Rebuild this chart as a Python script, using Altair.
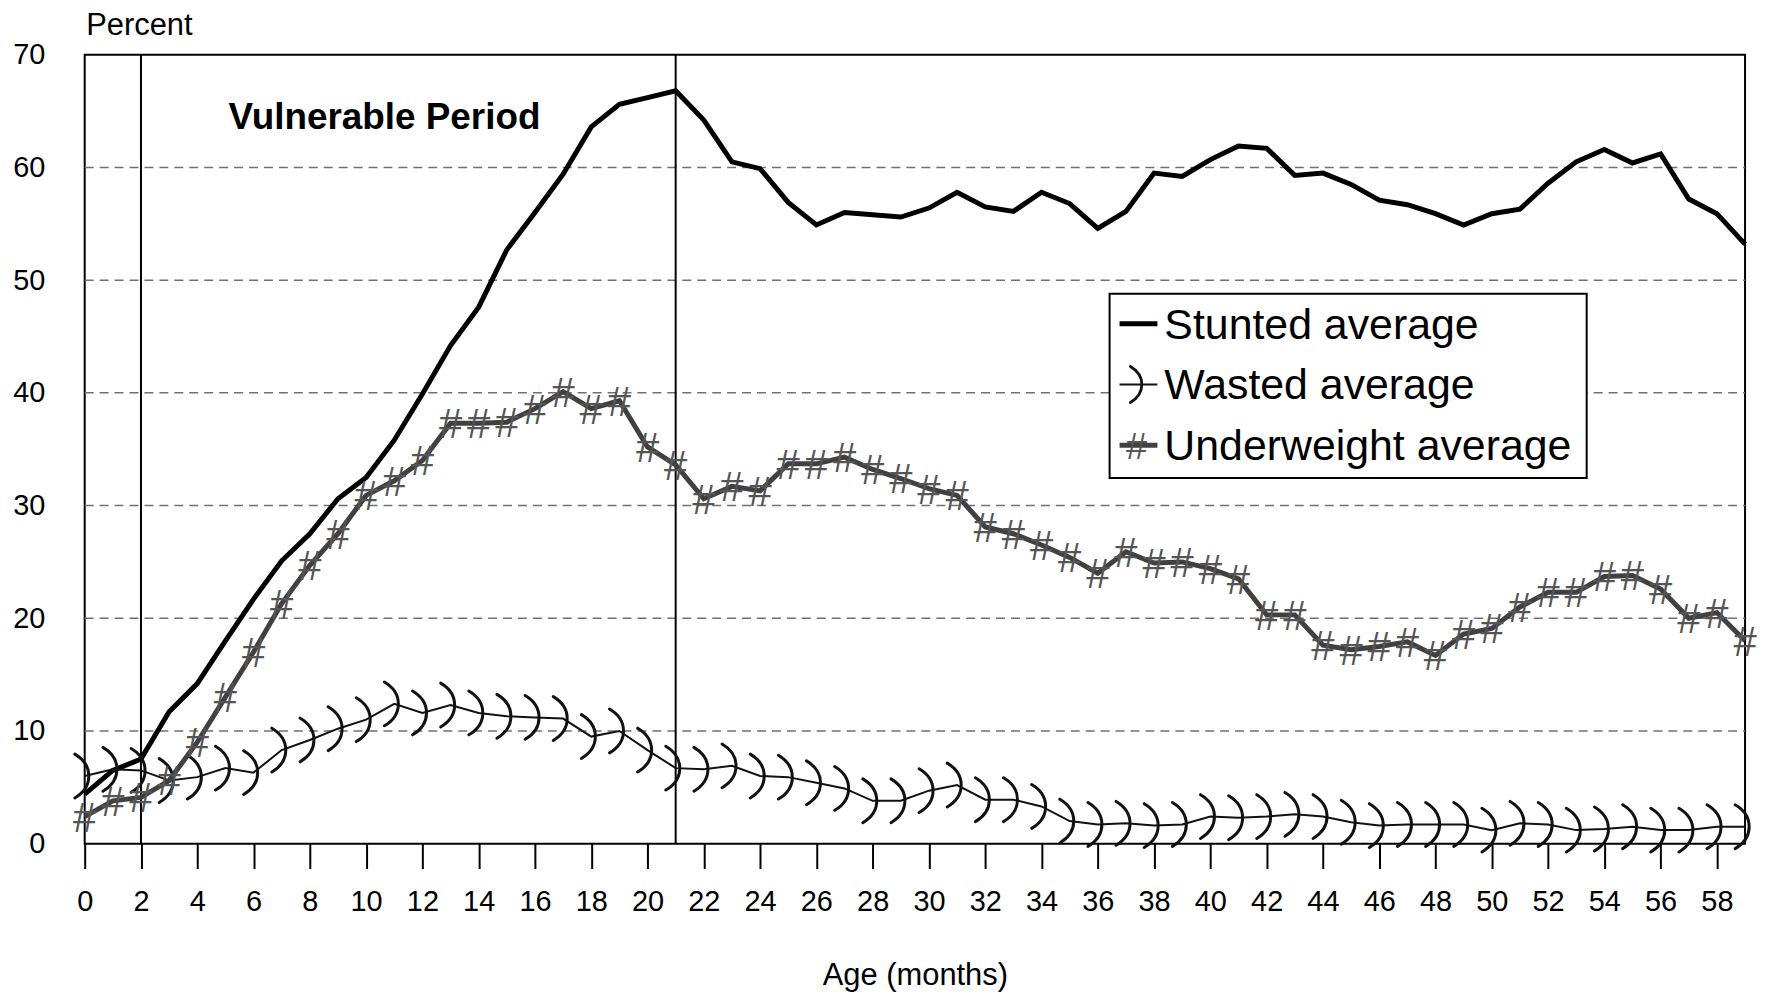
import altair as alt
import pandas as pd

# ---------------- data ----------------
months = list(range(0, 60))

stunted = [4.4, 6.5, 7.5, 11.7, 14.2, 18.0, 21.7, 25.1, 27.5, 30.6,
           32.5, 35.8, 39.9, 44.2, 47.6, 52.7, 56.0, 59.4, 63.6, 65.6,
           66.2, 66.8, 64.2, 60.5, 59.9, 56.9, 54.9, 56.0, 55.8, 55.6,
           56.4, 57.8, 56.5, 56.1, 57.8, 56.8, 54.6, 56.1, 59.5, 59.2,
           60.7, 61.9, 61.7, 59.3, 59.5, 58.5, 57.1, 56.7, 55.9, 54.9,
           55.9, 56.3, 58.6, 60.5, 61.6, 60.4, 61.2, 57.2, 55.9, 53.2]

wasted = [6.0, 6.6, 6.5, 5.6, 5.9, 6.7, 6.3, 8.3, 9.2, 10.2,
          11.0, 12.4, 11.6, 12.3, 11.6, 11.3, 11.2, 11.1, 9.5, 10.0,
          8.3, 6.7, 6.6, 6.9, 6.0, 5.9, 5.4, 4.9, 3.8, 3.8,
          4.7, 5.2, 3.9, 3.9, 3.3, 2.0, 1.7, 1.8, 1.6, 1.7,
          2.4, 2.3, 2.4, 2.6, 2.4, 1.9, 1.6, 1.7, 1.7, 1.7,
          1.2, 1.8, 1.7, 1.2, 1.3, 1.5, 1.2, 1.2, 1.5, 1.5]

underweight = [2.4, 3.8, 4.1, 5.6, 9.0, 13.0, 17.0, 21.3, 24.7, 27.5,
               30.9, 32.2, 34.0, 37.3, 37.3, 37.4, 38.6, 40.1, 38.6, 39.3,
               35.2, 33.6, 30.6, 31.7, 31.3, 33.7, 33.7, 34.3, 33.2, 32.4,
               31.5, 30.9, 28.1, 27.5, 26.5, 25.4, 24.0, 25.9, 24.9, 25.0,
               24.4, 23.5, 20.3, 20.3, 17.6, 17.2, 17.5, 17.9, 16.7, 18.6,
               19.1, 21.0, 22.3, 22.3, 23.7, 23.8, 22.6, 20.0, 20.5, 18.0]

series_names = ["Stunted average", "Wasted average", "Underweight average"]
period_bounds = [2, 21]
grid_values = [10, 20, 30, 40, 50, 60]
x_ticks = list(range(0, 59, 2))
y_ticks = list(range(0, 71, 10))

FONT = "Liberation Sans"
W, H = 1667, 792
PAREN = "M -0.45 -1 C 0.4 -0.5 0.4 0.5 -0.45 1"

df = pd.DataFrame({
    "month": months * 3,
    "value": stunted + wasted + underweight,
    "series": [series_names[0]] * 60 + [series_names[1]] * 60 + [series_names[2]] * 60,
})

xs = alt.Scale(domain=[0, 59], nice=False, zero=False)
ys = alt.Scale(domain=[0, 70], nice=False)

x_axis = alt.Axis(values=x_ticks, grid=False, domain=False, ticks=True, tickSize=25,
                  tickWidth=2, tickColor="black", labelFontSize=29, labelFont=FONT,
                  labelColor="black", labelPadding=42, labelBaseline="alphabetic",
                  labelFlush=False, labelOverlap=False,
                  title="Age (months)", titleFont=FONT, titleFontSize=31,
                  titleFontWeight="normal", titleColor="black", titleX=W / 2,
                  titleY=141, titleAlign="center", titleBaseline="alphabetic")
y_axis = alt.Axis(values=y_ticks, grid=False, domain=False, ticks=False, tickSize=0,
                  labelFontSize=29, labelFont=FONT, labelColor="black",
                  labelPadding=40, labelBaseline="middle", labelFlush=False,
                  labelOverlap=False,
                  title="Percent", titleFont=FONT, titleFontSize=31,
                  titleFontWeight="normal", titleColor="black", titleAngle=0,
                  titleX=1, titleY=-20, titleAlign="left", titleBaseline="alphabetic")

X = alt.X("month:Q", scale=xs, axis=x_axis)
Y = alt.Y("value:Q", scale=ys, axis=y_axis)

base = alt.Chart(df)

grid = alt.Chart(pd.DataFrame({"g": grid_values})).mark_rule(
    color="#707070", strokeWidth=1.5, strokeDash=[9, 6]
).encode(y=alt.Y("g:Q", scale=ys), x=alt.value(0), x2=alt.value(W))

period = alt.Chart(pd.DataFrame({"p": period_bounds})).mark_rule(
    color="black", strokeWidth=2
).encode(x=alt.X("p:Q", scale=xs), y=alt.value(0), y2=alt.value(H))

stunted_line = base.transform_filter(alt.datum.series == series_names[0]).mark_line(
    color="black", strokeWidth=5
).encode(x=X, y=Y)

wasted_line = base.transform_filter(alt.datum.series == series_names[1]).mark_line(
    color="#111111", strokeWidth=2
).encode(x=X, y=Y)
wasted_marks = base.transform_filter(alt.datum.series == series_names[1]).mark_point(
    shape=PAREN, filled=False, stroke="#111111", strokeWidth=3, size=1936,
    opacity=1, strokeCap="round"
).encode(x=X, y=Y)

under_line = base.transform_filter(alt.datum.series == series_names[2]).mark_line(
    color="#404040", strokeWidth=5
).encode(x=X, y=Y)
under_marks = base.transform_filter(alt.datum.series == series_names[2]).mark_text(
    text="#", font=FONT, fontSize=42, color="#555555", align="center",
    baseline="alphabetic", dy=15
).encode(x=X, y=Y)

one = pd.DataFrame({"a": [0]})
vuln = alt.Chart(one).mark_text(
    text="Vulnerable Period", font=FONT, fontSize=37, fontWeight="bold",
    color="black", align="center", baseline="alphabetic"
).encode(x=alt.value(301), y=alt.value(75))

# legend
lx0, lx1, ly0, ly1 = 1029, 1508, 240, 425
sym_x0, sym_x1 = 1039, 1077
sym_c = (sym_x0 + sym_x1) / 2
rows = [270, 331, 392]
legend_layers = [
    alt.Chart(one).mark_rect(fill="white", stroke="black", strokeWidth=2).encode(
        x=alt.value(lx0), x2=alt.value(lx1), y=alt.value(ly0), y2=alt.value(ly1)),
    alt.Chart(one).mark_rule(color="black", strokeWidth=5).encode(
        x=alt.value(sym_x0), x2=alt.value(sym_x1), y=alt.value(rows[0])),
    alt.Chart(one).mark_rule(color="#111111", strokeWidth=2).encode(
        x=alt.value(sym_x0), x2=alt.value(sym_x1), y=alt.value(rows[1])),
    alt.Chart(one).mark_point(shape=PAREN, filled=False, stroke="#111111",
                              strokeWidth=2.8, size=1300, opacity=1,
                              strokeCap="round").encode(
        x=alt.value(sym_c), y=alt.value(rows[1])),
    alt.Chart(one).mark_rule(color="#404040", strokeWidth=5).encode(
        x=alt.value(sym_x0), x2=alt.value(sym_x1), y=alt.value(rows[2])),
    alt.Chart(one).mark_text(text="#", font=FONT, fontSize=38, color="#555555",
                             align="center", baseline="alphabetic", dy=13.5).encode(
        x=alt.value(sym_c - 2), y=alt.value(rows[2])),
]
for i, name in enumerate(series_names):
    legend_layers.append(
        alt.Chart(one).mark_text(text=name, font=FONT, fontSize=43, color="black",
                                 align="left", baseline="alphabetic").encode(
            x=alt.value(1084), y=alt.value(rows[i] + 15))
    )

chart = alt.layer(
    grid, period, stunted_line, wasted_line, wasted_marks, under_line, under_marks,
    vuln, *legend_layers
).properties(
    width=W, height=H,
    autosize=alt.AutoSizeParams(type="none"),
    padding={"left": 77, "top": 45, "right": 12, "bottom": 150},
).configure(
    background="white"
).configure_view(
    stroke="black", strokeWidth=2
)

chart.save("out.html", embed_options={"renderer": "svg", "actions": False})
